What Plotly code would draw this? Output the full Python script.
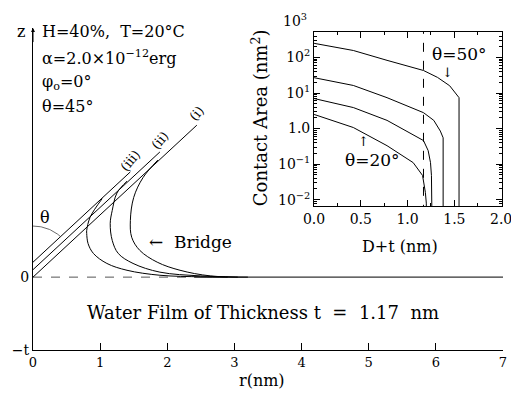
import numpy as np
import plotly.graph_objects as go

# ---------------- data ----------------
t_film = 1.17
tip_labels = ["(i)", "(ii)", "(iii)"]
tip_offsets = [0.0, 0.12, 0.24]
tip_r_end = [2.44, 1.89, 1.45]

men_i_r = [1.86, 1.64, 1.50, 1.45, 1.47, 1.59, 1.85, 2.19, 2.64, 3.20]
men_i_z = [1.88, 1.60, 1.28, 0.91, 0.64, 0.43, 0.24, 0.11, 0.02, 0.0]
men_ii_r = [1.40, 1.25, 1.18, 1.15, 1.18, 1.27, 1.49, 1.89, 2.49, 3.05]
men_ii_z = [1.54, 1.35, 1.07, 0.86, 0.59, 0.38, 0.22, 0.08, 0.02, 0.0]
men_iii_r = [1.03, 0.85, 0.80, 0.80, 0.82, 0.90, 1.10, 1.40, 1.89, 2.50, 2.90]
men_iii_z = [1.26, 0.96, 0.75, 0.70, 0.54, 0.38, 0.22, 0.11, 0.03, 0.005, 0.0]

main_xticks = [0, 1, 2, 3, 4, 5, 6, 7]

# inset: contact area vs D+t for theta = 20,30,40,50 deg
ca50_x = [0.0, 0.42, 0.78, 1.17, 1.32, 1.45, 1.55, 1.55]
ca50_y = [250, 157, 83, 43, 27.5, 16, 7.4, 0.004]
ca40_x = [0.0, 0.42, 0.78, 1.17, 1.28, 1.35, 1.38, 1.38]
ca40_y = [27, 16.3, 7.4, 2.8, 1.7, 0.85, 0.55, 0.004]
ca30_x = [0.0, 0.42, 0.78, 1.17, 1.22, 1.245, 1.255, 1.26, 1.26]
ca30_y = [7.0, 3.9, 1.7, 0.46, 0.24, 0.11, 0.048, 0.02, 0.004]
ca20_x = [0.0, 0.42, 0.78, 1.06, 1.16, 1.19, 1.20, 1.20]
ca20_y = [2.5, 1.07, 0.33, 0.11, 0.048, 0.016, 0.008, 0.004]

inset_xticks = [0.0, 0.5, 1.0, 1.5, 2.0]
inset_yticks = [0.01, 0.1, 1, 10, 100]
inset_yticktext = ["10<sup>−2</sup>", "10<sup>−1</sup>", "1.0", "10<sup>1</sup>", "10<sup>2</sup>"]

FONT = "DejaVu Serif"
LINE = dict(color="black", width=1)

fig = go.Figure()

# water film surface (dashed near tip, solid further out)
fig.add_trace(go.Scatter(x=[0, 2.4], y=[0, 0], mode="lines",
                         line=dict(color="#555", width=1, dash="dash"), xaxis="x", yaxis="y"))
fig.add_trace(go.Scatter(x=[2.4, 7], y=[0, 0], mode="lines",
                         line=dict(color="#333", width=1.2), xaxis="x", yaxis="y"))

# tip lines (45 deg)
for off, re in zip(tip_offsets, tip_r_end):
    fig.add_trace(go.Scatter(x=[0, re], y=[off, off + re], mode="lines", line=LINE,
                             xaxis="x", yaxis="y"))

# menisci
for rr, zz in [(men_i_r, men_i_z), (men_ii_r, men_ii_z), (men_iii_r, men_iii_z)]:
    fig.add_trace(go.Scatter(x=rr, y=zz, mode="lines", line=dict(color="black", width=1, shape="spline"),
                             xaxis="x", yaxis="y"))

# theta arc
ang = np.linspace(0, np.pi / 4, 30)
rad = 0.58
fig.add_trace(go.Scatter(x=rad * np.sin(ang), y=tip_offsets[2] + rad * np.cos(ang), mode="lines",
                         line=dict(color="#444", width=0.8), xaxis="x", yaxis="y"))

# inset curves
for xx, yy in [(ca50_x, ca50_y), (ca40_x, ca40_y), (ca30_x, ca30_y), (ca20_x, ca20_y)]:
    fig.add_trace(go.Scatter(x=xx, y=yy, mode="lines", line=dict(color="black", width=1),
                             xaxis="x2", yaxis="y2"))
fig.add_trace(go.Scatter(x=[t_film, t_film], y=[0.004, 900], mode="lines",
                         line=dict(color="black", width=1, dash="dash"), xaxis="x2", yaxis="y2"))

fig.update_layout(
    width=511, height=396,
    margin=dict(l=33, r=8, t=28, b=46),
    paper_bgcolor="white", plot_bgcolor="white",
    showlegend=False,
    font=dict(family=FONT, size=13, color="black"),
    xaxis=dict(domain=[0, 1], range=[0, 7], showline=True, linecolor="black", linewidth=1,
               ticks="inside", ticklen=7, tickcolor="black", tickvals=main_xticks,
               showgrid=False, zeroline=False, anchor="y", automargin=False),
    yaxis=dict(domain=[0, 1], range=[-t_film, 4.0], showline=True, linecolor="black", linewidth=1,
               ticks="", tickvals=[0, -t_film], ticktext=["0", "−t"], showgrid=False, zeroline=False,
               anchor="x", automargin=False, tickfont=dict(size=14)),
    xaxis2=dict(domain=[0.598, 0.998], range=[0, 2.01], anchor="y2", showline=True, mirror="allticks",
                linecolor="black", linewidth=1, ticks="inside", ticklen=6, tickcolor="black",
                tickvals=inset_xticks, ticktext=[f"{v:.1f}" for v in inset_xticks],
                ticklabeloverflow="allow",
                minor=dict(ticks="inside", ticklen=3, tickvals=[0.25, 0.75, 1.25, 1.75], tickcolor="black"),
                showgrid=False, zeroline=False, automargin=False, tickfont=dict(size=14)),
    yaxis2=dict(domain=[0.447, 0.988], type="log", range=[-2.18, 2.72], anchor="x2", showline=True,
                mirror="allticks", linecolor="black", linewidth=1, ticks="inside", ticklen=6,
                tickcolor="black", tickvals=inset_yticks, ticktext=inset_yticktext,
                minor=dict(ticks="inside", ticklen=3, tickcolor="black", dtick="D1"),
                showgrid=False, zeroline=False, tickfont=dict(size=14), automargin=False),
)

ann = []
def A(text, x, y, xref="x", yref="y", size=16, xanchor="center", yanchor="middle", angle=0):
    ann.append(dict(text=text, x=x, y=y, xref=xref, yref=yref, showarrow=False, textangle=angle,
                    font=dict(family=FONT, size=size, color="black"), xanchor=xanchor, yanchor=yanchor))

A("H=40%,  T=20°C", 0.015, 0.988, "paper", "paper", xanchor="left")
A("α=2.0×10<sup>−12</sup>erg", 0.015, 0.907, "paper", "paper", xanchor="left")
A("φ<sub>o</sub>=0°", 0.015, 0.832, "paper", "paper", xanchor="left")
A("θ=45°", 0.015, 0.755, "paper", "paper", xanchor="left")
A("z", -0.012, 0.988, "paper", "paper", xanchor="right")
A("θ", 0.18, 0.96)
A("←  Bridge", 2.34, 0.56, size=17)
A("Water Film of Thickness t  =  1.17  nm", 3.42, -0.56, size=18)
for lab, off, re in zip(tip_labels, tip_offsets, tip_r_end):
    A(lab, re + 0.0, off + re + 0.18, size=13, angle=-50)
# axis titles
A("r(nm)", 0.487, -0.096, "paper", "paper", size=16)
A("D+t (nm)", 0.781, 0.32, "paper", "paper", size=16)
A("Contact Area (nm<sup>2</sup>)", 0.483, 0.72, "paper", "paper", size=18, angle=-90)
# inset labels
A("θ=50°", 1.55, np.log10(125), "x2", "y2", size=17)
A("↓", 1.43, np.log10(38), "x2", "y2", size=13)
A("θ=20°", 0.63, np.log10(0.13), "x2", "y2", size=17)
A("↑", 0.53, np.log10(0.42), "x2", "y2", size=13)
A("10<sup>3</sup>", 0.588, (350 - 20) / 322, "paper", "paper", size=14, xanchor="right")

# z-axis arrowhead
ann.append(dict(x=0, y=4.0, ax=0, ay=3.75, xref="x", yref="y", axref="x", ayref="y",
                showarrow=True, arrowhead=2, arrowsize=0.8, arrowwidth=1, arrowcolor="black", text=""))

fig.update_layout(annotations=ann)
fig.write_html("out.html", config={"displayModeBar": False},
               post_script="document.body.style.margin='0';")
